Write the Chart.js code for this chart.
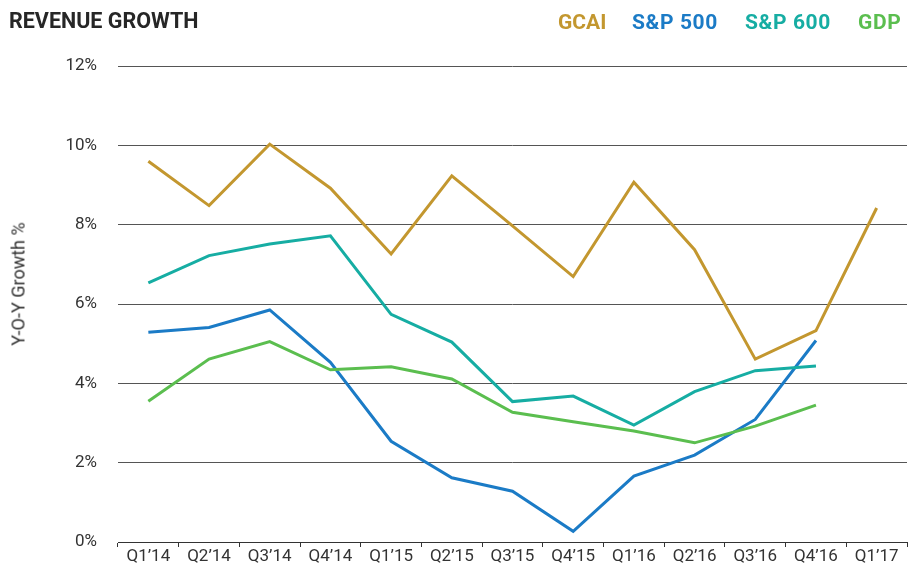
<!DOCTYPE html>
<html>
<head>
<meta charset="utf-8">
<script src="https://cdn.jsdelivr.net/npm/chart.js@4"></script>
<style>
  body { margin: 0; background: #fff; font-family: Roboto, sans-serif; }
  #wrap { position: relative; width: 908px; height: 564px; }
  .lbl { position: absolute; font-weight: bold; font-size: 21px; line-height: 21px; white-space: nowrap; }
  #ytitle { position: absolute; left: 18px; top: 284px; font-size: 18px; color: #333;
    transform: translate(-50%, -50%) rotate(-90deg); white-space: nowrap; }
</style>
</head>
<body>
<div id="wrap">
  <canvas id="chart" width="908" height="564"></canvas>
  <div class="lbl" style="left:9px;top:10px;font-size:21.5px;color:#262626">REVENUE GROWTH</div>
  <div class="lbl" style="left:558px;top:12px;color:#C3972F">GCAI</div>
  <div class="lbl" style="left:632px;top:12px;color:#1B7BC6;letter-spacing:0.6px">S&amp;P 500</div>
  <div class="lbl" style="left:745px;top:12px;color:#16ADA3;letter-spacing:0.6px">S&amp;P 600</div>
  <div class="lbl" style="left:858px;top:12px;color:#5BBE4F;letter-spacing:0.6px">GDP</div>
  <div id="ytitle">Y-O-Y Growth %</div>
</div>
<script>
// Data
const quarters = ['Q1’14', 'Q2’14', 'Q3’14', 'Q4’14', 'Q1’15', 'Q2’15', 'Q3’15',
  'Q4’15', 'Q1’16', 'Q2’16', 'Q3’16', 'Q4’16', 'Q1’17'];
const gcai = [9.6, 8.48, 10.03, 8.92, 7.26, 9.23, 7.97, 6.69, 9.07, 7.37, 4.61, 5.33, 8.42];
const sp500 = [5.29, 5.41, 5.85, 4.53, 2.54, 1.62, 1.28, 0.27, 1.66, 2.19, 3.09, 5.08, null];
const sp600 = [6.53, 7.22, 7.51, 7.72, 5.74, 5.04, 3.54, 3.68, 2.95, 3.79, 4.32, 4.44, null];
const gdp = [3.55, 4.61, 5.05, 4.34, 4.42, 4.11, 3.27, 3.03, 2.80, 2.50, 2.92, 3.45, null];
const yTicks = [0, 2, 4, 6, 8, 10, 12];

const line = (data, color) => ({
  data: data,
  borderColor: color,
  backgroundColor: color,
  borderWidth: 3,
  pointRadius: 0,
  tension: 0,
  spanGaps: false
});

new Chart(document.getElementById('chart'), {
  type: 'line',
  data: {
    labels: quarters,
    datasets: [
      line(gdp, '#5BBE4F'),
      line(sp600, '#16ADA3'),
      line(sp500, '#1B7BC6'),
      line(gcai, '#C3972F')
    ]
  },
  options: {
    responsive: false,
    animation: false,
    layout: { padding: { top: 66, right: 1, bottom: 0, left: 0 } },
    plugins: { legend: { display: false }, tooltip: { enabled: false } },
    scales: {
      x: {
        offset: true,
        grid: { offset: true, drawOnChartArea: false, drawTicks: true, tickLength: 5, color: '#333', lineWidth: 1 },
        border: { display: true, color: '#333', width: 1 },
        ticks: { color: '#333', font: { family: 'Roboto', size: 17 }, padding: 0, maxRotation: 0, autoSkip: false },
        afterFit: (s) => { s.height = 22; }
      },
      y: {
        min: 0,
        max: 12,
        afterBuildTicks: (s) => { s.ticks = yTicks.map(v => ({ value: v })); },
        grid: { color: '#555', lineWidth: 1, drawTicks: false },
        border: { display: false },
        ticks: { color: '#333', font: { family: 'Roboto', size: 17 }, padding: 21, callback: (v) => v + '%' },
        afterFit: (s) => { s.width = 118; s.paddingBottom = 0; }
      }
    }
  }
});
</script>
</body>
</html>
